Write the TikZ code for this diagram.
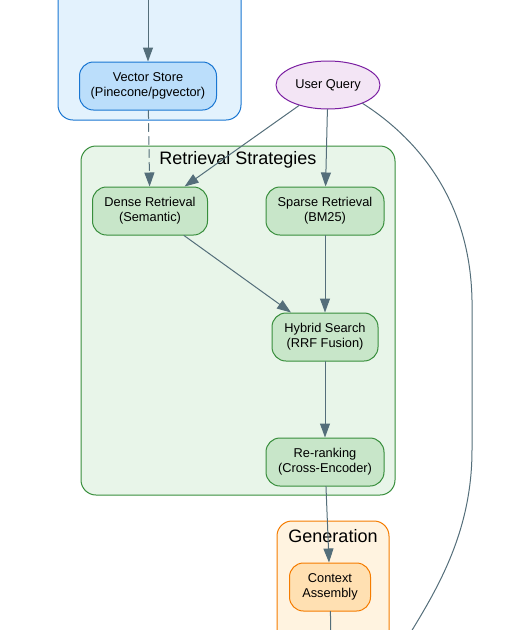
\documentclass[tikz,border=0pt]{standalone}
\usepackage{fontspec}
\setmainfont{Liberation Sans}
\usepackage{tikz}
\usepackage{xcolor}
\usetikzlibrary{arrows.meta,shapes.geometric}

\definecolor{edgegray}{HTML}{546E7A}
\definecolor{bluefill}{HTML}{E3F2FD}
\definecolor{bluenode}{HTML}{BBDEFB}
\definecolor{blueline}{HTML}{1976D2}
\definecolor{greenfill}{HTML}{E8F5E9}
\definecolor{greennode}{HTML}{C8E6C9}
\definecolor{greenline}{HTML}{388E3C}
\definecolor{orangefill}{HTML}{FFF3E0}
\definecolor{orangenode}{HTML}{FFE0B2}
\definecolor{orangeline}{HTML}{F57C00}
\definecolor{purplefill}{HTML}{F3E5F5}
\definecolor{purpleline}{HTML}{7B1FA2}

\begin{document}
\begin{tikzpicture}[x=1pt, y=-1pt, line cap=round, line join=round,
    cluster/.style={line width=1pt, rounded corners=15pt},
    stepnode/.style={rectangle, rounded corners=14pt, line width=1pt, align=center,
        minimum height=48pt, inner sep=2pt,
        font=\fontsize{12.8}{15}\selectfont},
    flow/.style={line width=1pt, edgegray, -{Triangle[length=14pt,width=10pt]}},
    clustertitle/.style={font=\fontsize{18}{21}\selectfont}]

\useasboundingbox (0,0) rectangle (520,630);
\clip (0,0) rectangle (520,630);

% === GRUPO SUPERIOR (azul) ===
\draw[cluster, fill=bluefill, draw=blueline] (58,-30) rectangle (241,120);
\node[stepnode, fill=bluenode, draw=blueline, minimum width=137pt] (vecstore) at (148,86)
    {Vector Store\\(Pinecone/pgvector)};
\coordinate (topin) at (148,-10);

% === CONSULTA ===
\node[ellipse, fill=purplefill, draw=purpleline, line width=1pt,
      minimum width=104pt, minimum height=48pt, inner sep=0pt,
      font=\fontsize{12.8}{15}\selectfont] (query) at (328,85) {User Query};

% === ESTRATEGIAS DE RECUPERACION (verde) ===
\draw[cluster, fill=greenfill, draw=greenline] (81,146) rectangle (395,495);
\node[clustertitle] at (238,160) {Retrieval Strategies};
\node[stepnode, fill=greennode, draw=greenline, minimum width=115pt] (dense) at (150,211)
    {Dense Retrieval\\(Semantic)};
\node[stepnode, fill=greennode, draw=greenline, minimum width=118pt] (sparse) at (325,211)
    {Sparse Retrieval\\(BM25)};
\node[stepnode, fill=greennode, draw=greenline, minimum width=106pt] (hybrid) at (325,337)
    {Hybrid Search\\(RRF Fusion)};
\node[stepnode, fill=greennode, draw=greenline, minimum width=118pt] (rerank) at (325,462)
    {Re-ranking\\(Cross-Encoder)};

% === GENERACION (naranja) ===
\draw[cluster, fill=orangefill, draw=orangeline] (277,521) rectangle (389,660);
\node[clustertitle] at (333,536) {Generation};
\node[stepnode, fill=orangenode, draw=orangeline, minimum width=81pt] (context) at (330,587)
    {Context\\Assembly};
\coordinate (ctxout) at (331,645);
\coordinate (queryout) at (400,650);

% === FLECHAS ===
\draw[flow] (topin) -- (vecstore);
\draw[flow, dash pattern=on 8pt off 5pt] (vecstore) -- (dense);
\draw[flow] (query) -- (dense);
\draw[flow] (query) -- (sparse);
\draw[flow] (dense) -- (hybrid);
\draw[flow] (sparse) -- (hybrid);
\draw[flow] (hybrid) -- (rerank);
\draw[flow] (rerank) -- (context);
\draw[line width=1pt, edgegray] (context) -- (ctxout);
\draw[line width=1pt, edgegray] (query.-28) .. controls (412,135) and (470,195) .. (472,300)
    -- (472,450) .. controls (472,540) and (430,600) .. (queryout);

\end{tikzpicture}
\end{document}
